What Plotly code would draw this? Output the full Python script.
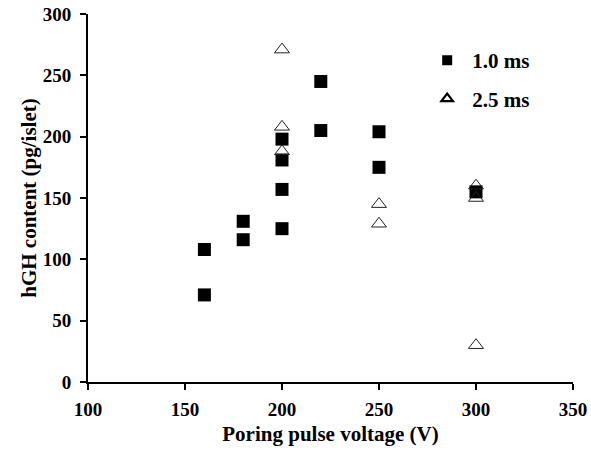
import plotly.graph_objects as go

# 1.0 ms series
v_10 = [160, 160, 180, 180, 200, 200, 200, 200, 220, 220, 250, 250, 300]
h_10 = [108, 71, 131, 116, 125, 157, 181, 198, 245, 205, 204, 175, 155]

# 2.5 ms series
v_25 = [200, 200, 200, 250, 250, 300, 300, 300]
h_25 = [271, 208, 188, 145, 129, 160, 150, 30]

x_ticks = [100, 150, 200, 250, 300, 350]
y_ticks = [0, 50, 100, 150, 200, 250, 300]

FONT = "Liberation Serif"

fig = go.Figure()
fig.add_trace(go.Scatter(
    x=v_10, y=h_10, mode="markers", showlegend=False,
    marker=dict(symbol="square", size=13, color="black", line=dict(width=0)),
))
fig.add_trace(go.Scatter(
    x=v_25, y=h_25, mode="markers", showlegend=False,
    marker=dict(symbol="triangle-up-open", size=13, color="#222222",
                line=dict(width=1)),
))
# legend-only entries (smaller, bolder symbols as in the reference legend)
fig.add_trace(go.Scatter(
    x=[None], y=[None], mode="markers", name="<b>1.0 ms</b>", legendgroup="a",
    marker=dict(symbol="square", size=10, color="black", line=dict(width=0)),
))
fig.add_trace(go.Scatter(
    x=[None], y=[None], mode="markers", name="<b>2.5 ms</b>", legendgroup="b",
    marker=dict(symbol="triangle-up-open", size=10, color="black",
                line=dict(width=2.2)),
))

axis_common = dict(
    showline=True, linecolor="black", linewidth=2,
    ticks="outside", ticklen=6, tickwidth=2, tickcolor="black",
    showgrid=False, zeroline=False, automargin=False,
    ticklabeloverflow="allow",
    tickfont=dict(family=FONT, size=19, color="black"),
)

fig.update_xaxes(
    range=[100, 350], tickvals=x_ticks, ticktext=[f"<b>{t}</b>" for t in x_ticks],
    title=dict(text="<b>Poring pulse voltage (V)</b>",
               font=dict(family=FONT, size=21, color="black"), standoff=8),
    ticklabelstandoff=3,
    **axis_common,
)
fig.update_yaxes(
    range=[0, 300], tickvals=y_ticks, ticktext=[f"<b>{t}</b>" for t in y_ticks],
    title=dict(text="<b>hGH content (pg/islet)</b>",
               font=dict(family=FONT, size=21, color="black"), standoff=0),
    ticklabelstandoff=5,
    **axis_common,
)

fig.update_layout(
    width=591, height=450,
    margin=dict(l=88, r=18, t=14, b=68),
    plot_bgcolor="white", paper_bgcolor="white",
    showlegend=True,
    legend=dict(
        x=0.689, y=0.929, xanchor="left", yanchor="top",
        font=dict(family=FONT, size=21, color="black"),
        bgcolor="rgba(0,0,0,0)", tracegroupgap=8,
        traceorder="grouped", itemwidth=40,
    ),
)

fig.write_html(
    "out.html",
    config={"displayModeBar": False},
    post_script="document.body.style.margin='0';document.body.style.overflow='hidden';",
)
